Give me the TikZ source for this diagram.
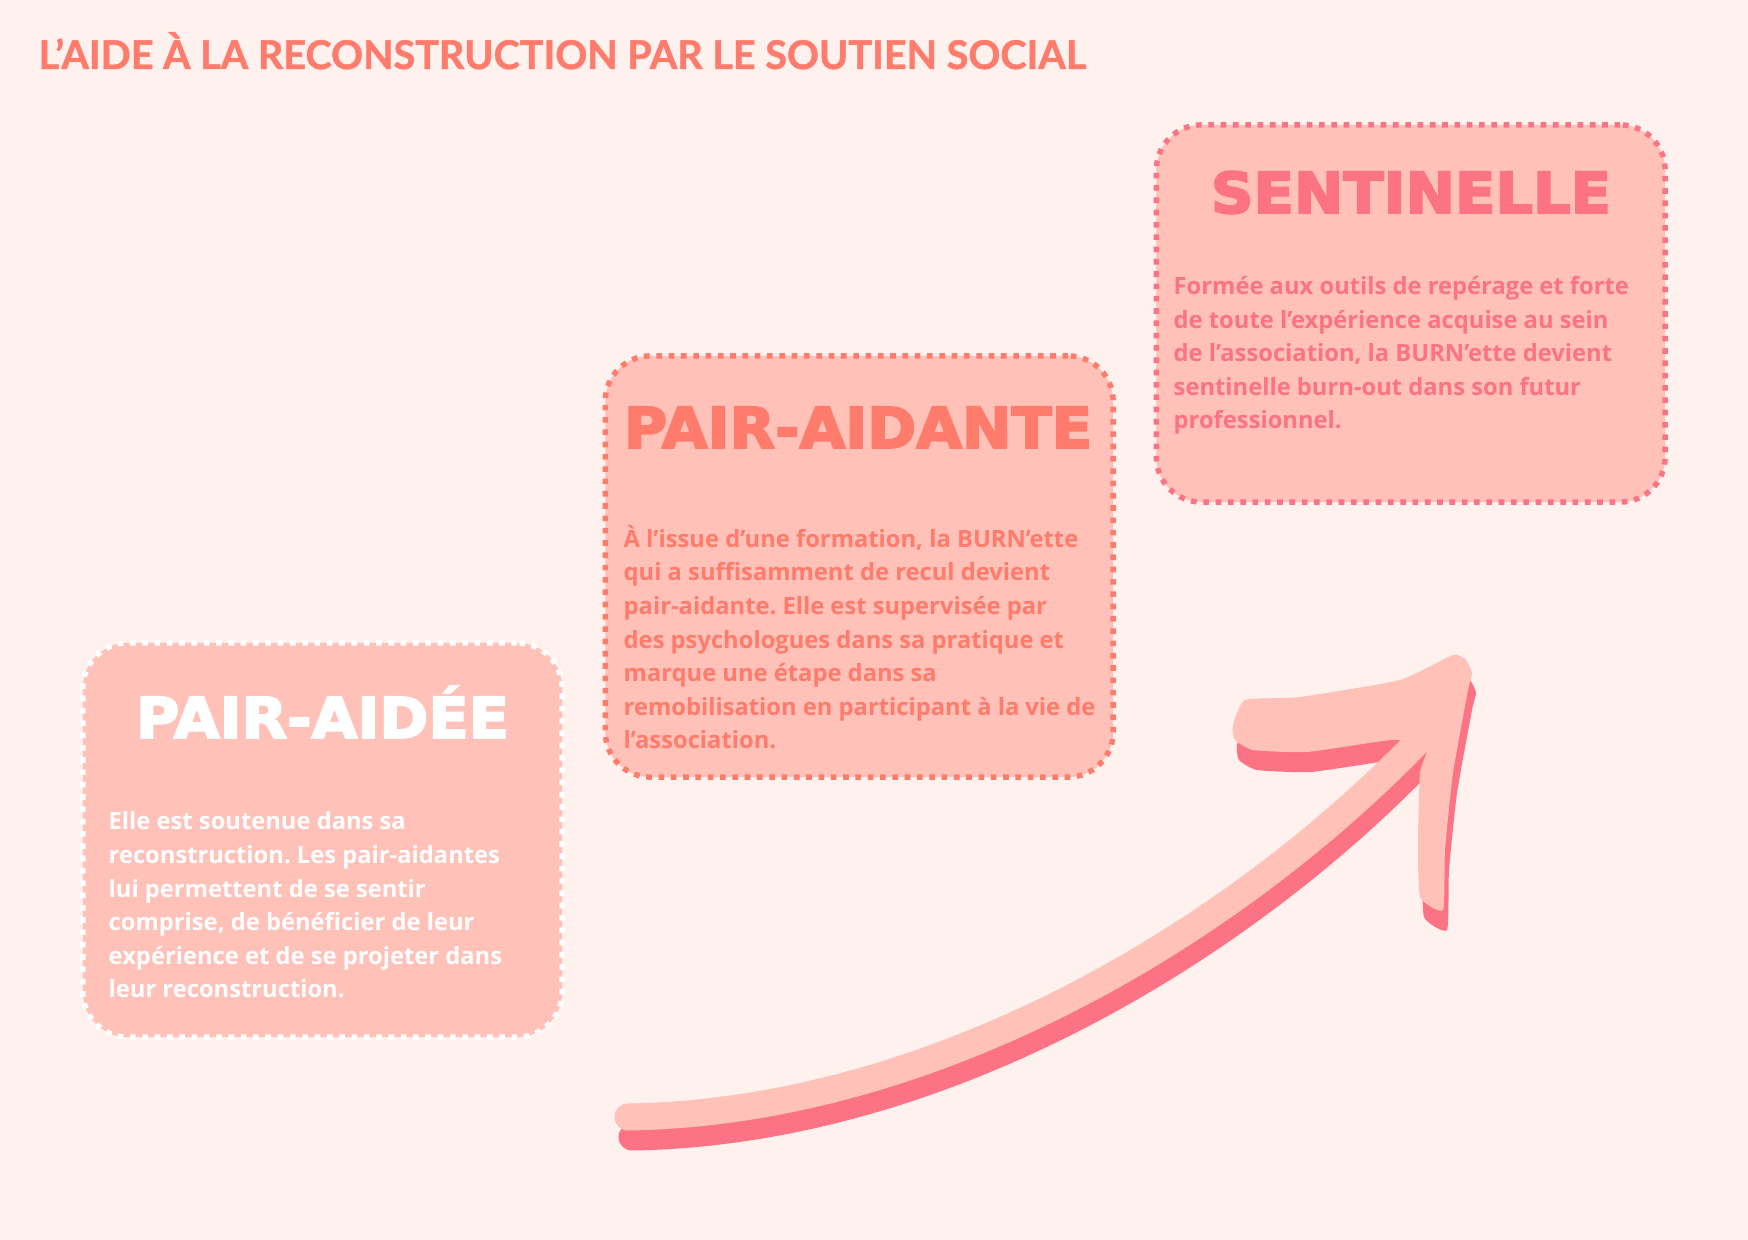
\documentclass[tikz,border=0pt]{standalone}
\usepackage{fontspec}
\setmainfont{Lato}
\newfontfamily\topfont{Lato}[BoldFeatures={FakeBold=1.2}]
\newfontfamily\headfont{DejaVu Sans}[FakeStretch=1.05, BoldFeatures={FakeBold=3.5}]
\newfontfamily\bodyfont{Open Sans}
\frenchspacing
\usepackage{tikz}
\usetikzlibrary{positioning}
\definecolor{bgpink}{HTML}{FFF1EE}
\definecolor{boxpink}{HTML}{FFC1B8}
\definecolor{coral}{HTML}{FF7B6B}
\definecolor{rosered}{HTML}{FC7385}
\tikzset{
  stagebox/.style={rectangle, rounded corners=0.45cm, fill=boxpink, line width=1.55pt,
    dash pattern=on 1.6pt off 1.9pt, inner sep=0pt},
  stagetitle/.style={font=\headfont\bfseries\fontsize{16}{19}\selectfont, anchor=base, inner sep=0pt},
  stagetext/.style={font=\bodyfont\bfseries\fontsize{6.75}{9.56}\selectfont, anchor=base west, align=left, inner sep=0pt},
}
\newcommand{\stagenode}[1]{\node[stagebox,draw=#1]}
\newcommand{\growarrow}[1]{%
  \draw[line width=0.27cm, line cap=round, #1] (628,1117) .. controls (950,1112) and (1260,915) .. (1440,718);
  \fill[#1] plot[smooth cycle, tension=0.3] coordinates {(1235,740) (1233,725) (1245,700) (1300,697)
    (1400,680) (1453,655) (1466,660) (1472,673) (1468,690) (1453,773) (1445,850) (1443,910)
    (1420,897) (1418,840) (1420,773) (1427,750) (1410,742) (1390,740) (1307,752) (1253,750)};
}

\begin{document}
\begin{tikzpicture}[x=0.01cm, y=-0.01cm]
  \fill[bgpink] (0,0) rectangle (1748,1240);
  \useasboundingbox (0,0) rectangle (1748,1240);
  \node[font=\topfont\bfseries\fontsize{11.25}{13}\selectfont, text=coral, anchor=base west, inner sep=0pt]
    (mainTitle) at (38,69) {L’AIDE À LA RECONSTRUCTION PAR LE SOUTIEN SOCIAL};
  % les trois étapes
  \stagenode{white} [minimum width=4.79cm, minimum height=3.94cm] (aidee) at (322.5,840) {};
  \stagenode{coral} [minimum width=5.075cm, minimum height=4.21cm] (aidante) at (859.25,566.5) {};
  \stagenode{rosered} [minimum width=5.085cm, minimum height=3.77cm] (sentinelle) at (1410.75,313.5) {};
  \node[stagetitle, text=white] (aideeTitle) at (322.5,738) {PAIR-AIDÉE};
  \node[stagetitle, text=coral] (aidanteTitle) at (858,448) {PAIR-AIDANTE};
  \node[stagetitle, text=rosered] (sentinelleTitle) at (1411,213) {SENTINELLE};
  % ancre = ligne de base de la derniere ligne
  \node[stagetext, text=white] (aideeText) at (108,998) {Elle est soutenue dans sa\\
    reconstruction. Les pair-aidantes\\ lui permettent de se sentir\\
    comprise, de bénéficier de leur\\ expérience et de se projeter dans\\
    leur reconstruction.};
  \node[stagetext, text=coral] (aidanteText) at (623,749) {À l’issue d’une formation, la BURN’ette\\
    qui a suffisamment de recul devient\\ pair-aidante. Elle est supervisée par\\
    des psychologues dans sa pratique et\\ marque une étape dans sa\\
    remobilisation en participant à la vie de\\ l’association.};
  \node[stagetext, text=rosered] (sentinelleText) at (1173,429) {Formée aux outils de repérage et forte\\
    de toute l’expérience acquise au sein\\ de l’association, la BURN’ette devient\\
    sentinelle burn-out dans son futur\\ professionnel.};
  % la flèche
  \begin{scope}[shift={(4,20)}]
    \growarrow{rosered}
  \end{scope}
  \growarrow{boxpink}
\end{tikzpicture}
\end{document}
